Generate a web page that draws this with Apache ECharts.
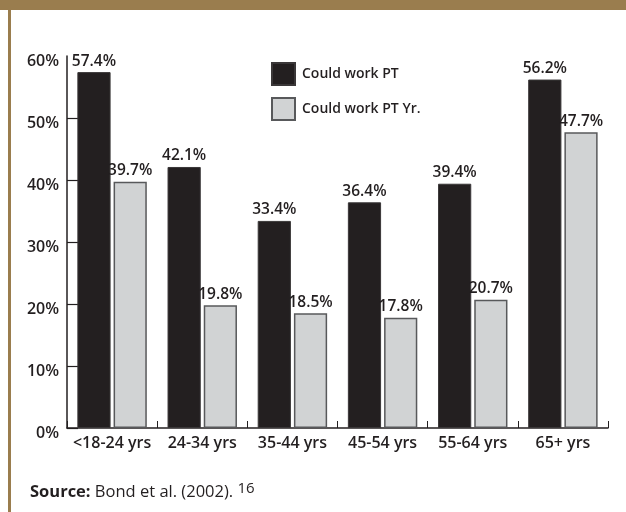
<!DOCTYPE html>
<html>
<head>
<meta charset="utf-8">
<script src="https://cdn.jsdelivr.net/npm/echarts@6/dist/echarts.min.js"></script>
<style>
html,body{margin:0;padding:0;background:#fff;}
#c{width:626px;height:512px;}
</style>
</head>
<body>
<div id="c"></div>
<script>
const categories = ['<18-24 yrs', '24-34 yrs', '35-44 yrs', '45-54 yrs', '55-64 yrs', '65+ yrs'];
const couldWorkPT = [57.4, 42.1, 33.4, 36.4, 39.4, 56.2];
const couldWorkPTYr = [39.7, 19.8, 18.5, 17.8, 20.7, 47.7];
const seriesNames = ['Could work PT', 'Could work PT Yr.'];
const yTicks = [0, 10, 20, 30, 40, 50];

const FONT = '"Open Sans", "Liberation Sans", sans-serif';
const INK = '#231f20';
const BROWN = '#9a7d4e';

const chart = echarts.init(document.getElementById('c'), null, {renderer: 'canvas'});

const labelCfg = {
  show: true, position: 'top', distance: 3,
  formatter: p => p.value.toFixed(1) + '%',
  fontFamily: FONT, fontSize: 15.5, fontWeight: 600, color: INK
};

chart.setOption({
  backgroundColor: '#ffffff',
  animation: false,
  textStyle: {fontFamily: FONT},
  grid: {left: 67, right: 18, top: 56, bottom: 84, containLabel: false},
  legend: {
    orient: 'vertical', left: 266, top: 57,
    itemWidth: 23, itemHeight: 22, itemGap: 11,
    icon: 'rect',
    data: seriesNames,
    textStyle: {fontFamily: FONT, fontSize: 14, fontWeight: 600, color: INK, padding: [0, 0, 0, 2]}
  },
  xAxis: {
    type: 'category', data: categories,
    axisLine: {show: true, lineStyle: {color: INK, width: 1.5}},
    axisTick: {show: true, inside: true, length: 7, alignWithLabel: false, lineStyle: {color: INK, width: 1}},
    axisLabel: {fontFamily: FONT, fontSize: 16, fontWeight: 600, color: INK, margin: 7, interval: 0}
  },
  yAxis: {
    type: 'value', min: 0, max: 60, interval: 10,
    axisLine: {show: true, lineStyle: {color: INK, width: 1.5}},
    axisTick: {show: true, inside: true, length: 11, customValues: yTicks, lineStyle: {color: INK, width: 1.2}},
    axisLabel: {formatter: '{value}%', fontFamily: FONT, fontSize: 16, fontWeight: 600, color: INK, margin: 8,
      verticalAlign: 'top', lineHeight: 10},
    splitLine: {show: false}
  },
  series: [
    {
      name: seriesNames[0], type: 'bar', data: couldWorkPT,
      barGap: '9%', barCategoryGap: '23%',
      itemStyle: {color: INK, borderColor: '#3a3738', borderWidth: 1},
      label: labelCfg
    },
    {
      name: seriesNames[1], type: 'bar', data: couldWorkPTYr,
      itemStyle: {color: '#d1d3d4', borderColor: '#58595b', borderWidth: 1.5},
      label: labelCfg
    }
  ],
  graphic: [
    {type: 'rect', shape: {x: 0, y: 0, width: 626, height: 10}, style: {fill: BROWN}, silent: true},
    {type: 'rect', shape: {x: 8, y: 0, width: 3, height: 512}, style: {fill: BROWN}, silent: true},
    {
      type: 'text', left: 30, top: 481,
      style: {
        rich: {
          b: {fontFamily: FONT, fontSize: 16.5, fontWeight: 700, fill: INK},
          r: {fontFamily: FONT, fontSize: 16.5, fontWeight: 400, fill: INK},
          s: {fontFamily: FONT, fontSize: 15, fontWeight: 400, fill: INK, padding: [0, 0, 8, 0]}
        },
        text: '{b|Source:}{r| Bond et al. (2002). }{s|16}'
      }
    }
  ]
});
</script>
</body>
</html>
